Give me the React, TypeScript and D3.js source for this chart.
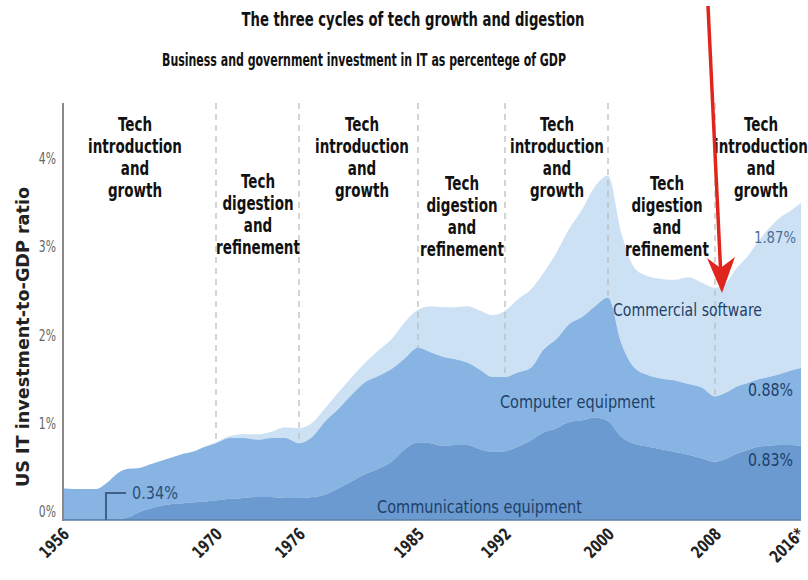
import React from "react";
import * as d3 from "d3";

// ---- Data ----
const years = [
  1956, 1957, 1958, 1959, 1960, 1961, 1962, 1963, 1964, 1965, 1966, 1967, 1968, 1969,
  1970, 1971, 1972, 1973, 1974, 1975, 1976, 1977, 1978, 1979, 1980, 1981, 1982, 1983,
  1984, 1985, 1986, 1987, 1988, 1989, 1990, 1991, 1992, 1993, 1994, 1995, 1996, 1997,
  1998, 1999, 2000, 2001, 2002, 2003, 2004, 2005, 2006, 2007, 2008, 2009, 2010, 2011,
  2012, 2013, 2014, 2015, 2016,
];
// % of GDP, communications equipment (bottom layer)
const commsEquipment = [
  0.01, 0.01, 0.01, 0.01, 0.01, 0.01, 0.03, 0.09, 0.13, 0.16, 0.18, 0.19, 0.2, 0.21,
  0.22, 0.24, 0.25, 0.26, 0.26, 0.25, 0.25, 0.26, 0.29, 0.36, 0.44, 0.52, 0.58, 0.66,
  0.8, 0.88, 0.87, 0.84, 0.85, 0.85, 0.8, 0.77, 0.78, 0.83, 0.9, 0.99, 1.04, 1.11,
  1.13, 1.16, 1.12, 0.94, 0.86, 0.83, 0.8, 0.77, 0.74, 0.7, 0.66, 0.69, 0.75, 0.79,
  0.83, 0.84, 0.85, 0.85, 0.84,
];
// % of GDP, computer equipment (middle layer)
const computerEquipment = [
  0.35, 0.34, 0.34, 0.34, 0.41, 0.52, 0.55, 0.5, 0.5, 0.51, 0.53, 0.56, 0.58, 0.62,
  0.65, 0.69, 0.68, 0.65, 0.67, 0.68, 0.62, 0.68, 0.83, 0.9, 0.98, 1.04, 1.05, 1.05,
  1.03, 1.07, 1.03, 1.01, 0.97, 0.93, 0.9, 0.85, 0.84, 0.84, 0.82, 0.94, 1.01, 1.11,
  1.17, 1.26, 1.4, 1.06, 0.86, 0.81, 0.8, 0.81, 0.8, 0.8, 0.74, 0.75, 0.76, 0.76,
  0.76, 0.78, 0.8, 0.84, 0.88,
];
// % of GDP, commercial software (top layer)
const commercialSoftware = [
  0, 0, 0, 0, 0, 0, 0, 0, 0, 0, 0, 0, 0, 0,
  0.01, 0.02, 0.04, 0.06, 0.07, 0.12, 0.17, 0.16, 0.15, 0.19, 0.2, 0.22, 0.29, 0.34,
  0.41, 0.43, 0.52, 0.56, 0.59, 0.64, 0.67, 0.7, 0.75, 0.83, 0.89, 0.87, 0.98, 1.08,
  1.22, 1.36, 1.38, 1.25, 1.13, 1.12, 1.13, 1.14, 1.21, 1.19, 1.23, 1.24, 1.34, 1.43,
  1.56, 1.68, 1.77, 1.81, 1.87,
];
const tickYears = [1956, 1970, 1976, 1985, 1992, 2000, 2008, 2016];
const tickYearLabels = ["1956", "1970", "1976", "1985", "1992", "2000", "2008", "2016*"];
const dividerYears = [1970, 1976, 1985, 1992, 2000, 2008];
const yTicks = [0, 1, 2, 3, 4];
const phaseLines = [
  ["Tech", "introduction", "and", "growth"],
  ["Tech", "digestion", "and", "refinement"],
  ["Tech", "introduction", "and", "growth"],
  ["Tech", "digestion", "and", "refinement"],
  ["Tech", "introduction", "and", "growth"],
  ["Tech", "digestion", "and", "refinement"],
  ["Tech", "introduction", "and", "growth"],
];
const seriesKeys = ["comms", "computer", "software"];
const endLabels = ["0.83%", "0.88%", "1.87%"];

const FONT = "'Liberation Sans Narrow', 'DejaVu Sans Condensed', 'Roboto Condensed', 'DejaVu Sans', sans-serif";
const COLORS: Record<string, string> = {
  comms: "#6a9ad0",
  computer: "#87b4e3",
  software: "#cde1f5",
};
const LABEL_COLOR = "#1f3f68";

export default function App() {
  const W = 808;
  const H = 580;
  const baseY = 520;

  // piecewise-linear time axis (the reference's period spacing is uneven)
  const x = d3
    .scaleLinear()
    .domain(tickYears)
    .range([63, 216, 299, 418, 505, 608, 715, 801]);
  const y = d3.scaleLinear().domain([0, 4]).range([baseY, baseY - 4 * 88.3]);

  const table = years.map((yr, i) => ({
    year: yr,
    comms: commsEquipment[i],
    computer: computerEquipment[i],
    software: commercialSoftware[i],
  }));
  const stacked = d3.stack<any>().keys(seriesKeys)(table);
  const area = d3
    .area<any>()
    .x((d) => x(d.data.year))
    .y0((d) => y(d[0]))
    .y1((d) => y(d[1]))
    .curve(d3.curveMonotoneX);

  const layer = (key: string) => stacked.find((s) => s.key === key)!;
  const phaseTop = [124, 181, 124, 183, 124, 183, 124];
  const phaseX = [135, 258, 362, 462, 557, 667, 761];
  const endY: Record<string, number> = { software: 237, computer: 390, comms: 460 };

  return (
    <svg
      width={W}
      height={H}
      style={{ position: "absolute", left: 0, top: 0, background: "#fff" }}
      fontFamily={FONT}
    >
      <rect x={0} y={0} width={W} height={H} fill="#fff" />
      {/* titles */}
      <text x={413} y={26} textAnchor="middle" fontSize={19} fontWeight="bold" fill="#111"
        textLength={343} lengthAdjust="spacingAndGlyphs">
        The three cycles of tech growth and digestion
      </text>
      <text x={364} y={66} textAnchor="middle" fontSize={17} fontWeight="bold" fill="#111"
        textLength={404} lengthAdjust="spacingAndGlyphs">
        Business and government investment in IT as percentege of GDP
      </text>

      {/* software layer first, dividers over it, then lower layers */}
      <path d={area(layer("software") as any) || ""} fill={COLORS.software} />
      {dividerYears.map((yr) => (
        <line key={yr} x1={x(yr)} x2={x(yr)} y1={103} y2={baseY}
          stroke="#b8b8b8" strokeWidth={1.2} strokeDasharray="6,5" />
      ))}
      <path d={area(layer("computer") as any) || ""} fill={COLORS.computer} />
      <path d={area(layer("comms") as any) || ""} fill={COLORS.comms} />

      {/* axes */}
      <line x1={63} x2={63} y1={103} y2={baseY + 1} stroke="#8a8a8a" strokeWidth={2} />
      <line x1={63} x2={x(2016)} y1={baseY} y2={baseY} stroke="#5b7fa6" strokeWidth={1.5} />
      {yTicks.map((v) => (
        <g key={v} transform={`translate(56,${y(v) - 8}) scale(0.8,1)`}>
          <text dy="0.35em" textAnchor="end" fontSize={15} fill="#666">
            {v}%
          </text>
        </g>
      ))}
      <text transform="translate(23,337) rotate(-90)" textAnchor="middle" dy="0.35em"
        fontSize={17} fontWeight="bold" fill="#222" textLength={300} lengthAdjust="spacingAndGlyphs">
        US IT investment-to-GDP ratio
      </text>
      {tickYears.map((yr, i) => (
        <text key={yr}
          transform={`translate(${x(yr) + (i === tickYears.length - 1 ? 0 : 3)},${531}) rotate(-45) scale(0.8,1)`}
          textAnchor="end" dy="0.35em" fontSize={17} fontWeight="bold" fill="#222">
          {tickYearLabels[i]}
        </text>
      ))}

      {/* phase labels */}
      {phaseLines.map((lines, i) => (
        <g key={i} transform={`translate(${phaseX[i]},0) scale(0.79,1)`}>
          <text textAnchor="middle" fontSize={19} fontWeight="bold" fill="#111">
            {lines.map((ln, j) => (
              <tspan key={j} x={0} y={phaseTop[i] + j * 22} dy="0.35em">
                {ln}
              </tspan>
            ))}
          </text>
        </g>
      ))}

      {/* layer labels */}
      <text x={613} y={310} dy="0.35em" fontSize={18} fill={LABEL_COLOR} textLength={149}
        lengthAdjust="spacingAndGlyphs">Commercial software</text>
      <text x={500} y={402} dy="0.35em" fontSize={18} fill={LABEL_COLOR} textLength={155}
        lengthAdjust="spacingAndGlyphs">Computer equipment</text>
      <text x={377} y={507} dy="0.35em" fontSize={18} fill={LABEL_COLOR} textLength={205}
        lengthAdjust="spacingAndGlyphs">Communications equipment</text>
      {seriesKeys.map((k, i) => (
        <text key={k} x={k === "software" ? 754 : 748} y={endY[k]}
          dy="0.35em" fontSize={k === "software" ? 16 : 18}
          fill={k === "software" ? "#4d6f96" : LABEL_COLOR}
          textLength={k === "software" ? 42 : 45} lengthAdjust="spacingAndGlyphs">
          {endLabels[i]}
        </text>
      ))}

      {/* 0.34% bracket */}
      <path d={`M${106},${baseY} V${493} H${126}`} fill="none" stroke="#3f6188" strokeWidth={2} />
      <text x={132} y={493} dy="0.35em" fontSize={18} fill="#2d4f7a" textLength={46}
        lengthAdjust="spacingAndGlyphs">0.34%</text>

      {/* red arrow */}
      <line x1={708} y1={6} x2={720.5} y2={268} stroke="#e0261c" strokeWidth={3.5} />
      <path d="M722,293 L707,258 L720.5,268 L735,257 Z" fill="#e0261c" />
    </svg>
  );
}
